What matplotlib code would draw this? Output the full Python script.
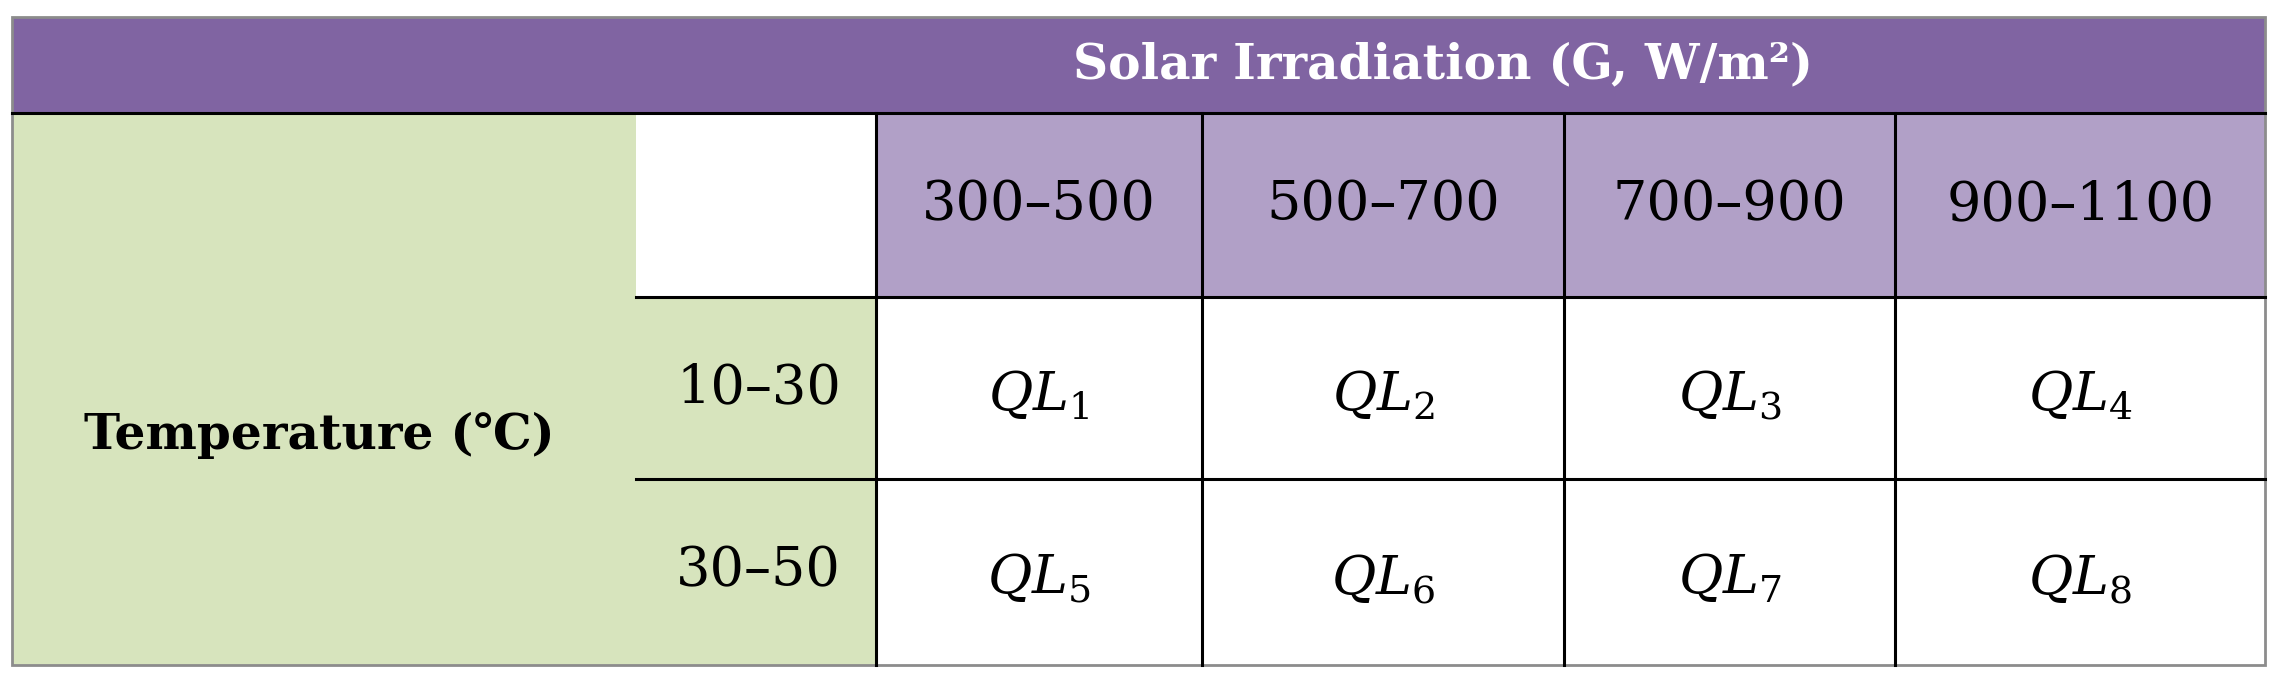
import matplotlib
matplotlib.use("Agg")
import matplotlib.pyplot as plt
from matplotlib.patches import Rectangle

plt.rcParams['mathtext.fontset'] = 'dejavuserif'
header_title = "Solar Irradiation (G, W/m²)"
row_title = "Temperature (℃)"
col_labels = ["300–500", "500–700", "700–900", "900–1100"]
row_labels = ["10–30", "30–50"]
cells = [["$QL_1$", "$QL_2$", "$QL_3$", "$QL_4$"],
         ["$QL_5$", "$QL_6$", "$QL_7$", "$QL_8$"]]

W, H = 1568, 470
fig = plt.figure(figsize=(22.77, 6.82), dpi=100)
ax = fig.add_axes([0, 0, 1, 1])
ax.set_xlim(0, W); ax.set_ylim(H, 0); ax.axis('off')

dark = '#8064A2'; light = '#B1A0C7'; green = '#D7E4BD'
L, R, T, B = 8, 1560, 12, 458
hb = 78
xs = [603, 828, 1077, 1305, 1560]
ys = [78, 205, 330, 458]
xl = 438

ax.add_patch(Rectangle((L, T), R-L, hb-T, fc=dark, ec='none'))
ax.add_patch(Rectangle((L, hb), xs[0]-L, B-hb, fc=green, ec='none'))
ax.add_patch(Rectangle((xl, ys[0]), xs[0]-xl, ys[1]-ys[0], fc='white', ec='none'))
ax.add_patch(Rectangle((xs[0], ys[0]), R-xs[0], ys[1]-ys[0], fc=light, ec='none'))
ax.add_patch(Rectangle((xs[0], ys[1]), R-xs[0], B-ys[1], fc='white', ec='none'))
ax.add_patch(Rectangle((L, T), R-L, B-T, fc='none', ec='#8c8c8c', lw=2))

lw = 2.2
for x in xs[:-1]:
    ax.plot([x, x], [ys[0], B], color='black', lw=lw)
ax.plot([xl, R], [ys[1], ys[1]], color='black', lw=lw)
ax.plot([xl, R], [ys[2], ys[2]], color='black', lw=lw)
ax.plot([L, R], [hb, hb], color='black', lw=lw)

ff = 'DejaVu Serif'
ax.text(994, (T+hb)/2, header_title, color='white', fontsize=35,
        fontweight='bold', family=ff, ha='center', va='center')
ax.text(220, 300, row_title, color='black', fontsize=35,
        fontweight='bold', family=ff, ha='center', va='center')
for j, c in enumerate(col_labels):
    ax.text((xs[j]+xs[j+1])/2, (ys[0]+ys[1])/2, c, fontsize=39, family=ff,
            ha='center', va='center')
for i, r in enumerate(row_labels):
    ax.text((xl+xs[0])/2+2, (ys[i+1]+ys[i+2])/2, r, fontsize=39, family=ff,
            ha='center', va='center')
    for j in range(4):
        ax.text((xs[j]+xs[j+1])/2, (ys[i+1]+ys[i+2])/2 + 5, cells[i][j],
                fontsize=39, ha='center', va='center')
fig.savefig('out.png', dpi=100)
